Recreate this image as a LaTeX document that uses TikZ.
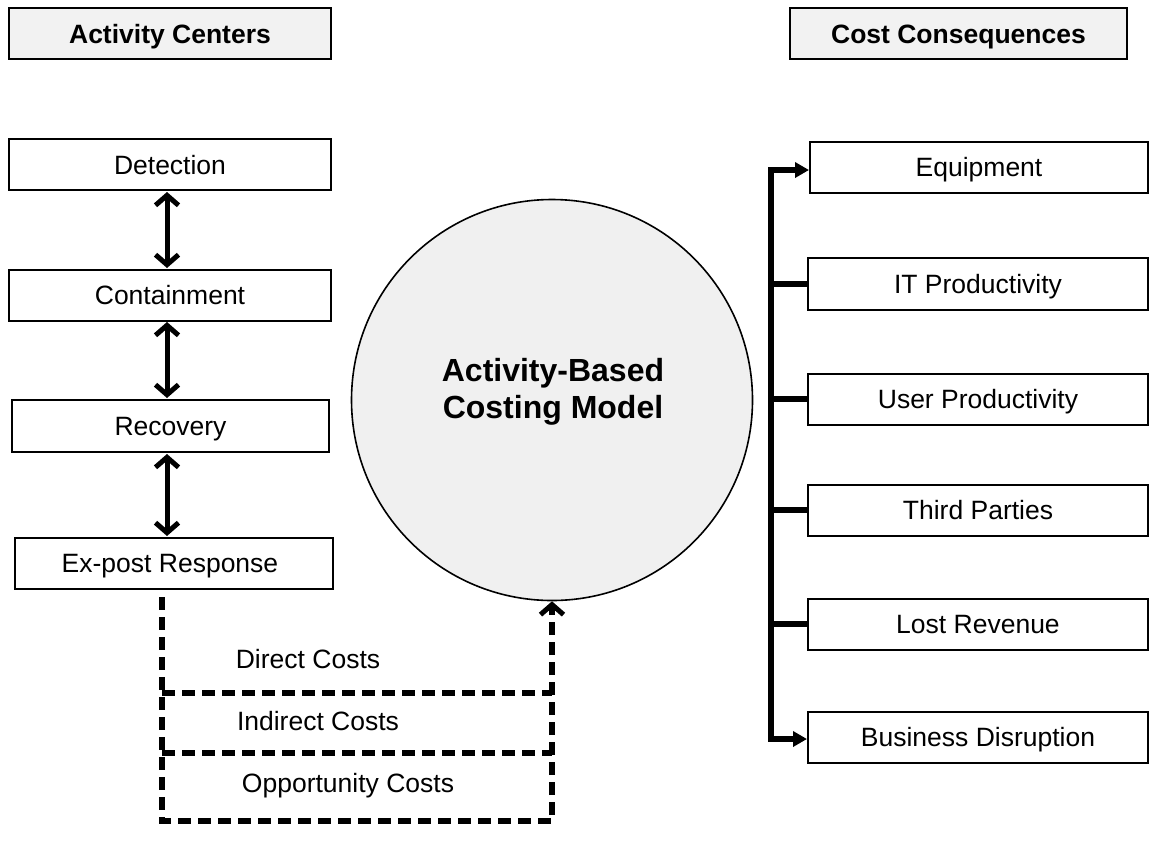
\documentclass[tikz,border=0pt]{standalone}
\usepackage{fontspec}
\setmainfont{Liberation Sans}
\usetikzlibrary{arrows.meta}
\definecolor{titlefill}{HTML}{F2F2F2}
\definecolor{circfill}{HTML}{F0F0F0}
\begin{document}
\begin{tikzpicture}[x=1pt,y=-1pt,
  box/.style={draw, line width=2pt, fill=white, inner sep=0pt,
    text height=19pt, text depth=0pt,
    font=\fontsize{26.5}{31}\selectfont},
  titlebox/.style={box, fill=titlefill, font=\fontsize{26.5}{31}\selectfont\bfseries},
  barb/.tip={Straight Barb[length=10pt,width=23pt,line width=5pt]},
  dblarrow/.style={line width=5pt, barb-barb},
  spine/.style={line width=5.5pt},
  tip/.style={-{Triangle[length=14pt,width=15pt]}},
  dsh/.style={line width=5.5pt, dash pattern=on 13pt off 7pt},
  lbl/.style={font=\fontsize{26.5}{31}\selectfont, inner sep=0pt, text height=19pt, text depth=0pt}]
\useasboundingbox (0,0) rectangle (1156,847);

% titles
\node[titlebox, minimum width=322pt, minimum height=51pt] (ac) at (170,33.5) {Activity Centers};
\node[titlebox, minimum width=337pt, minimum height=51pt] (cc) at (958.5,33.5) {Cost Consequences};

% left column
\node[box, minimum width=322pt, minimum height=51pt] (det) at (170,164.5) {Detection};
\node[box, minimum width=322pt, minimum height=51pt] (con) at (170,295) {Containment};
\node[box, minimum width=317pt, minimum height=52pt] (rec) at (170.5,426) {Recovery};
\node[box, minimum width=318pt, minimum height=51pt] (exp) at (174,563) {Ex-post Response\hspace*{8pt}};

\draw[dblarrow] (167,192) -- (167,268);
\draw[dblarrow] (167,322) -- (167,398);
\draw[dblarrow] (167,454) -- (167,536);

% circle
\node[draw, line width=1.6pt, fill=circfill, circle, minimum size=401pt, inner sep=0pt] (abc) at (552,400) {};
\node[font=\fontsize{32}{37}\selectfont\bfseries, align=center, inner sep=0pt] (abct) at (553,392) {Activity-Based\\Costing Model};

% right column
\node[box, minimum width=338pt, minimum height=51pt] (eq) at (979,167) {Equipment};
\node[box, minimum width=340pt, minimum height=52pt] (it) at (978,284) {IT Productivity};
\node[box, minimum width=340pt, minimum height=51pt] (up) at (978,399) {User Productivity};
\node[box, minimum width=340pt, minimum height=51pt] (tp) at (978,510) {Third Parties};
\node[box, minimum width=340pt, minimum height=51pt] (lr) at (978,624) {Lost Revenue};
\node[box, minimum width=340pt, minimum height=51pt] (bd) at (978,737) {Business Disruption};

\coordinate (st) at (771,170);
\coordinate (sb) at (771,739);
\draw[spine, tip, line join=miter] (sb) -- (st) -- (eq.west |- st);
\draw[spine, tip, line join=miter] (st) -- (sb) -- (bd.west |- sb);
\draw[spine] (st |- it.west) -- (it.west);
\draw[spine] (st |- up.west) -- (up.west);
\draw[spine] (st |- tp.west) -- (tp.west);
\draw[spine] (st |- lr.west) -- (lr.west);

% dashed cost paths
\coordinate (dl) at (162,597);
\coordinate (dlb) at (162,821);
\coordinate (drb) at (552,821);
\draw[dsh, -barb] (dl) -- (dlb) -- (drb) -- (abc.south);
\draw[dsh] (162,693) -- (552,693);
\draw[dsh] (162,753) -- (552,753);

\node[lbl] (dc) at (308,659) {Direct Costs};
\node[lbl] (ic) at (318,721) {Indirect Costs};
\node[lbl] (oc) at (348,783) {Opportunity Costs};
\end{tikzpicture}
\end{document}
